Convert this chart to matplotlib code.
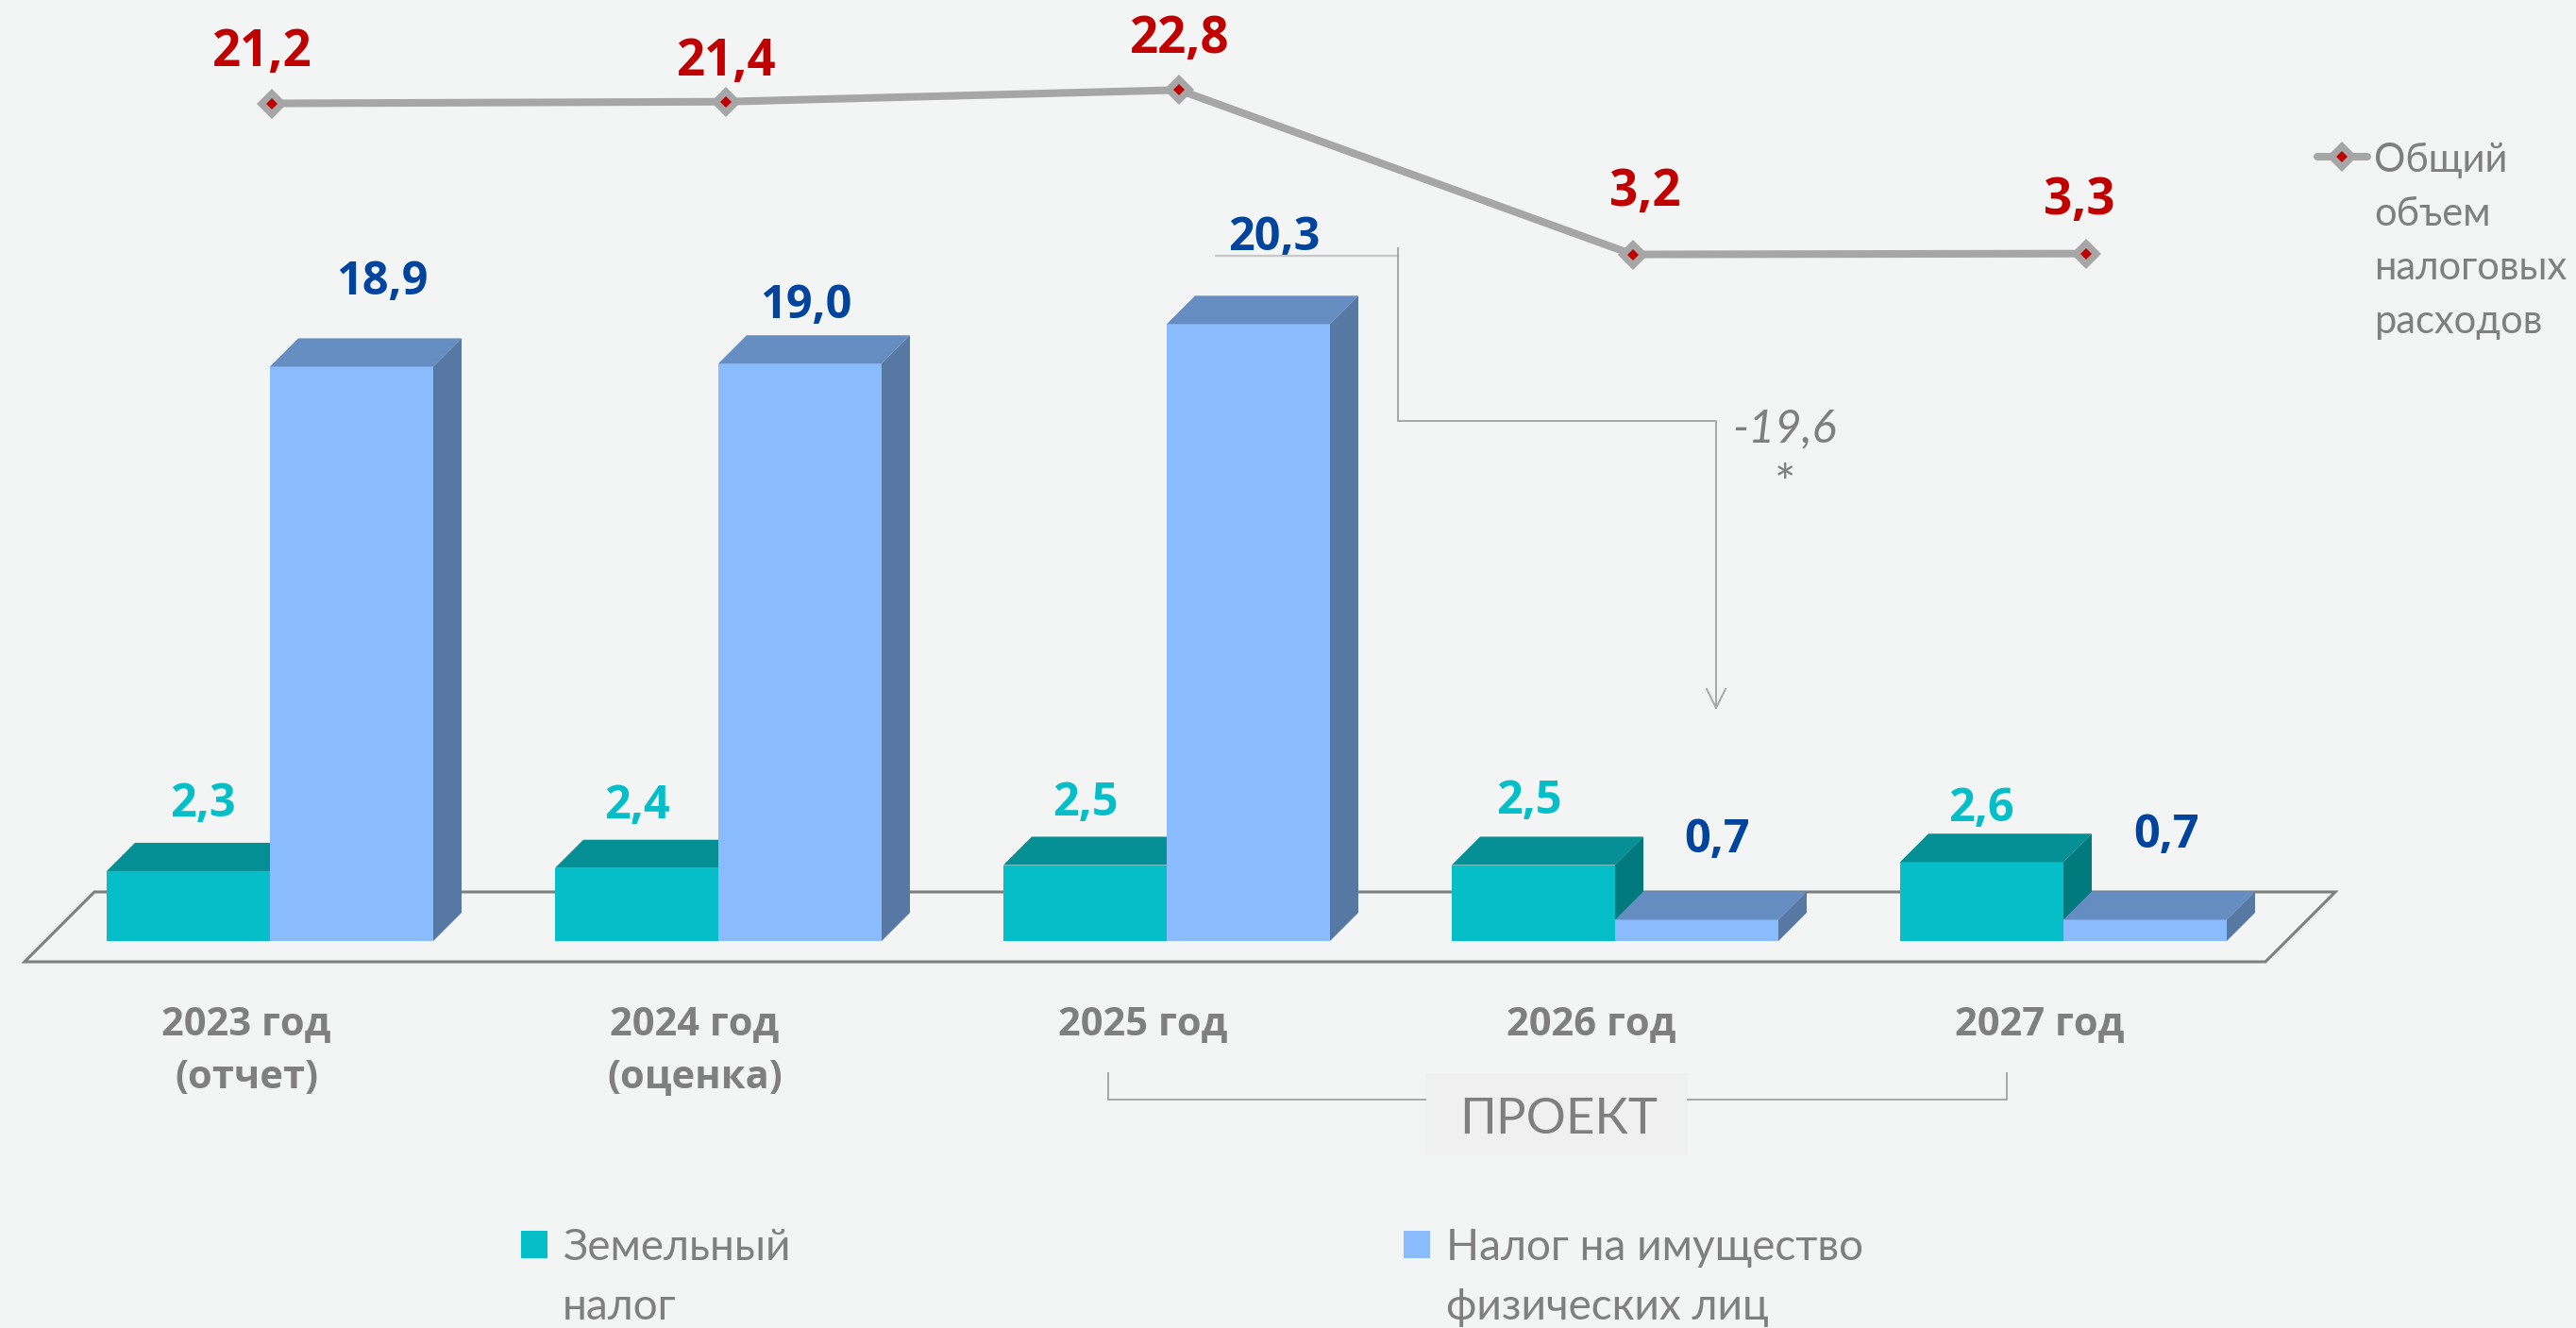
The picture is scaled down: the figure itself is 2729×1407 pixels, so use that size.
# -*- coding: utf-8 -*-
import matplotlib
matplotlib.use("Agg")
import matplotlib.pyplot as plt
import numpy as np
from matplotlib.lines import Line2D
from matplotlib.patches import Polygon, Rectangle

# data, млрд руб.
years = ["2023 год", "2024 год", "2025 год", "2026 год", "2027 год"]
year_notes = ["(отчет)", "(оценка)", "", "", ""]
land_tax = [2.3, 2.4, 2.5, 2.5, 2.6]
property_tax = [18.9, 19.0, 20.3, 0.7, 0.7]
total_expenses = [21.2, 21.4, 22.8, 3.2, 3.3]

land_label = "Земельный\nналог"
property_label = "Налог на имущество\nфизических лиц"
total_label = "Общий\nобъем\nналоговых\nрасходов"
project_label = "ПРОЕКТ"

# canvas / layout (pixels)
W_PX, H_PX, DPI = 2729, 1407, 100
X0_PX, STEP_PX = 286, 475          # bar group centres
BASE_PX, UNIT_PX = 997, 32.2       # bar baseline and px per unit
LX0_PX, LSTEP_PX = 288, 480.5      # line points
LZERO_PX, LUNIT_PX = 298, 8.89     # line scale
BAR_PX, DEPTH_PX = 173, 30

# label nudges (pixels above bar top / marker, baseline)
TEAL_DX, TEAL_DY = [15, 0, 0, -5, -1], [58, 53, 52, 55, 43]
BLUE_DX, BLUE_DY = [32, 6, 27, 22, 23], [76, 48, 78, 71, 76]
RED_DX, RED_DY = [-10, 1, 1, 13, -7], [40, 28, 39, 52, 42]

# colours
BG = "#F3F5F4"
TEAL = ("#05BEC7", "#038F94", "#017A7E")
BLUE = ("#8ABBFD", "#668DC1", "#5878A4")
TEAL_TXT, BLUE_TXT, RED = "#05BEC7", "#00449E", "#C00000"
GREY_TXT, LINE_C, THIN_C = "#7F7F7F", "#A6A6A6", "#A6A6A6"

BOLD = dict(family=["Open Sans", "DejaVu Sans"], weight="bold")
LIGHT = ["Lato", "Open Sans", "DejaVu Sans"]


def fmt(v):
    return f"{v:.1f}".replace(".", ",")


def fx(px):
    return px / W_PX


def fy(py):
    return 1 - py / H_PX


fig = plt.figure(figsize=(W_PX / DPI, H_PX / DPI), dpi=DPI, facecolor=BG)
ax = fig.add_axes([0, 0, 1, 1])
ax.set_axis_off()
ax.set_xlim(-X0_PX / STEP_PX, (W_PX - X0_PX) / STEP_PX)
ax.set_ylim((BASE_PX - H_PX) / UNIT_PX, BASE_PX / UNIT_PX)

x = np.arange(len(years))
bw = BAR_PX / STEP_PX
dx = DEPTH_PX / STEP_PX
dy = DEPTH_PX / UNIT_PX

# floor
fl_front = -22 / UNIT_PX
fl_back = 52 / UNIT_PX
fl_left = (26 - X0_PX) / STEP_PX
fl_right = (2400 - X0_PX) / STEP_PX
fl_shift = 74 / STEP_PX
ax.add_patch(Polygon([(fl_left, fl_front), (fl_right, fl_front),
                      (fl_right + fl_shift, fl_back), (fl_left + fl_shift, fl_back)],
                     closed=True, fc=BG, ec="#7F7F7F", lw=2.2, zorder=1))


def bar3d(x_left, heights, colors, z):
    front, top, side = colors
    ax.bar(x_left, heights, width=bw, align="edge", color=front, lw=0, zorder=z)
    for xl, h in zip(x_left, heights):
        xr = xl + bw
        ax.add_patch(Polygon([(xl, h), (xr, h), (xr + dx, h + dy), (xl + dx, h + dy)],
                             closed=True, fc=top, lw=0, zorder=z))
        ax.add_patch(Polygon([(xr, 0), (xr + dx, dy), (xr + dx, h + dy), (xr, h)],
                             closed=True, fc=side, lw=0, zorder=z))


bar3d(x - bw, land_tax, TEAL, 2)
bar3d(x, property_tax, BLUE, 3)

for i, v in enumerate(land_tax):
    ax.annotate(fmt(v), xy=(i - bw / 2, v), xytext=(TEAL_DX[i], TEAL_DY[i]),
                textcoords="offset pixels", ha="center", va="baseline",
                fontsize=35, color=TEAL_TXT, zorder=8, **BOLD)
for i, v in enumerate(property_tax):
    ax.annotate(fmt(v), xy=(i + bw / 2, v), xytext=(BLUE_DX[i], BLUE_DY[i]),
                textcoords="offset pixels", ha="center", va="baseline",
                fontsize=35, color=BLUE_TXT, zorder=8, **BOLD)

# category labels
for i, (yr, note) in enumerate(zip(years, year_notes)):
    ax.annotate(yr, xy=(i, 0), xytext=(-25, -100), textcoords="offset pixels",
                ha="center", va="baseline", fontsize=30, color=GREY_TXT, **BOLD)
    if note:
        ax.annotate(note, xy=(i, 0), xytext=(-25, -156), textcoords="offset pixels",
                    ha="center", va="baseline", fontsize=30, color=GREY_TXT, **BOLD)

# total line on its own scale
lax = fig.add_axes([0, 0, 1, 1])
lax.set_axis_off()
lax.patch.set_visible(False)
lax.set_xlim(-LX0_PX / LSTEP_PX, (W_PX - LX0_PX) / LSTEP_PX)
lax.set_ylim((LZERO_PX - H_PX) / LUNIT_PX, LZERO_PX / LUNIT_PX)
lax.plot(x, total_expenses, color=LINE_C, lw=5.8, marker="D", ms=16,
         mfc=LINE_C, mec=LINE_C, mew=0, zorder=5)
lax.plot(x, total_expenses, ls="none", marker="D", ms=6.5, color=RED, mew=0, zorder=6)
for i, v in enumerate(total_expenses):
    lax.annotate(fmt(v), xy=(i, v), xytext=(RED_DX[i], RED_DY[i]),
                 textcoords="offset pixels", ha="center", va="baseline",
                 fontsize=38, color=RED, **BOLD)

# change annotation 2025 -> 2026
tf = fig.transFigure
fig.add_artist(Line2D([fx(1288), fx(1481)], [fy(271), fy(271)], color="#C8C8C8",
                      lw=1.6, transform=tf))
fig.add_artist(Line2D([fx(1481), fx(1481), fx(1818), fx(1818)],
                      [fy(263), fy(446), fy(446), fy(750)], color=THIN_C,
                      lw=1.4, transform=tf))
fig.add_artist(Line2D([fx(1808), fx(1818), fx(1828)], [fy(730), fy(750), fy(730)],
                      color=THIN_C, lw=1.4, transform=tf))
change = property_tax[3] - property_tax[2]
fig.text(fx(1891), fy(468), fmt(change), ha="center", va="baseline", fontsize=35,
         style="italic", weight="normal", color=GREY_TXT, family=LIGHT)
fig.text(fx(1891), fy(530), "*", ha="center", va="baseline", fontsize=38,
         weight="normal", color=GREY_TXT, family=LIGHT)

# "ПРОЕКТ" bracket
fig.add_artist(Line2D([fx(1174), fx(1174), fx(1510)], [fy(1137), fy(1165), fy(1165)],
                      color=THIN_C, lw=1.4, transform=tf))
fig.add_artist(Line2D([fx(1788), fx(2126), fx(2126)], [fy(1165), fy(1165), fy(1137)],
                      color=THIN_C, lw=1.4, transform=tf))
fig.add_artist(Rectangle((fx(1510), fy(1224)), fx(278), 87 / H_PX, fc="#F0F0F0",
                         lw=0, transform=tf))
fig.text(fx(1651), fy(1201), project_label, ha="center", va="baseline", fontsize=38,
         weight="normal", color=GREY_TXT, family=LIGHT)

# legends
for sq_x, txt_x, color, label in [(552, 596, TEAL[0], land_label),
                                  (1487, 1532, BLUE[0], property_label)]:
    fig.add_artist(Rectangle((fx(sq_x), fy(1333)), fx(28), 29 / H_PX, fc=color,
                             lw=0, transform=tf))
    for k, line in enumerate(label.split("\n")):
        fig.text(fx(txt_x), fy(1335 + 63 * k), line, ha="left", va="baseline",
                 fontsize=33, color=GREY_TXT, family=LIGHT)

fig.add_artist(Line2D([fx(2455), fx(2508)], [fy(166), fy(166)], color=LINE_C, lw=5.8,
                      solid_capstyle="round", transform=tf))
fig.add_artist(Line2D([fx(2481)], [fy(166)], marker="D", ms=16, color=LINE_C, mew=0,
                      transform=tf))
fig.add_artist(Line2D([fx(2481)], [fy(166)], marker="D", ms=6.5, color=RED, mew=0,
                      transform=tf))
for k, line in enumerate(total_label.split("\n")):
    fig.text(fx(2515), fy(182 + 57 * k), line, ha="left", va="baseline",
             fontsize=30, color=GREY_TXT, family=LIGHT)

fig.savefig("out.png", dpi=DPI, facecolor=BG)
